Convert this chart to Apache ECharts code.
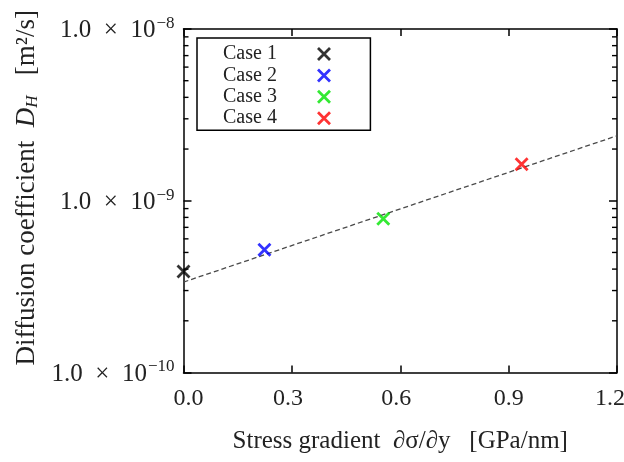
<!DOCTYPE html>
<html>
<head>
<meta charset="utf-8">
<script src="https://cdn.jsdelivr.net/npm/echarts@6/dist/echarts.min.js"></script>
<style>
  html, body { margin: 0; padding: 0; background: #fff; }
  #chart { width: 624px; height: 462px; }
</style>
</head>
<body>
<div id="chart"></div>
<script>
// Measured diffusion coefficients for each loading case
const caseNames = ['Case 1', 'Case 2', 'Case 3', 'Case 4'];
const caseColors = ['#000000', '#0000ff', '#00e400', '#ff0000'];
const stressGradient = [0.0, 0.224, 0.553, 0.936];       // GPa/nm
const diffusionCoeff = [3.87e-10, 5.18e-10, 7.85e-10, 1.63e-9]; // m^2/s

// Exponential fit drawn as a dashed line
const fitX = [0.0, 1.2];
const fitY = [3.36e-10, 2.39e-9];

// Axis ranges and ticks
const xTicks = [0.0, 0.3, 0.6, 0.9, 1.2];
const yMajor = [1e-10, 1e-9, 1e-8];
const yMinor = [2e-10, 3e-10, 4e-10, 5e-10, 6e-10, 7e-10, 8e-10, 9e-10,
                2e-9, 3e-9, 4e-9, 5e-9, 6e-9, 7e-9, 8e-9, 9e-9];

const FONT = '"Liberation Serif", "Times New Roman", serif';
const crossPath = 'path://M0,0L10,10M10,0L0,10';

const chart = echarts.init(document.getElementById('chart'), null, { renderer: 'canvas' });

const markStyle = i => ({ color: 'rgba(0,0,0,0)', borderColor: caseColors[i], borderWidth: 2.8 });

const scatterSeries = caseNames.map((name, i) => ({
  name: name,
  type: 'scatter',
  xAxisIndex: 0,
  yAxisIndex: 0,
  symbol: crossPath,
  symbolSize: 12,
  itemStyle: markStyle(i),
  data: [[stressGradient[i], diffusionCoeff[i]]],
  z: 5
}));

function expLabel(v) {
  const e = Math.round(Math.log10(v));
  return '{m|1.0\u2002×\u200210}{s|−' + Math.abs(e) + '}';
}

const yLabelRich = {
  m: { fontFamily: FONT, fontSize: 25, color: '#222', lineHeight: 28, verticalAlign: 'bottom' },
  s: { fontFamily: FONT, fontSize: 17, color: '#222', lineHeight: 28, verticalAlign: 'top', padding: [0, 0, 0, 1] }
};

// small horizontal nudges of the tick labels
const xLabelStyle = { fontFamily: FONT, fontSize: 24, color: '#222' };
const xLabelRich = {
  a: Object.assign({ padding: [0, 0, 0, 10] }, xLabelStyle),
  b: Object.assign({ padding: [0, 8, 0, 0] }, xLabelStyle),
  c: Object.assign({ padding: [0, 0, 0, 0] }, xLabelStyle),
  d: Object.assign({ padding: [0, 14, 0, 0] }, xLabelStyle)
};
function xLabel(v) {
  const t = v.toFixed(1);
  if (v < 0.15) return '{a|' + t + '}';
  if (v < 0.75) return '{b|' + t + '}';
  if (v < 1.05) return '{c|' + t + '}';
  return '{d|' + t + '}';
}

const axisLineStyle = { color: '#000', width: 1.5 };

const option = {
  animation: false,
  backgroundColor: '#ffffff',
  grid: { left: 183.5, right: 7, top: 29, bottom: 89.5, containLabel: false, outerBoundsMode: 'none' },
  xAxis: [{
    type: 'value', position: 'bottom', min: 0, max: 1.2, interval: 0.3,
    axisLine: { show: true, onZero: false, lineStyle: axisLineStyle },
    axisTick: { show: true, inside: true, length: 7, lineStyle: axisLineStyle },
    axisLabel: { margin: 14, formatter: v => xLabel(v), rich: xLabelRich },
    splitLine: { show: false },
    name: 'Stress gradient  ∂σ/∂y   [GPa/nm]',
    nameLocation: 'middle', nameGap: 56,
    nameTextStyle: { fontFamily: FONT, fontSize: 25, color: '#222' }
  }, {
    type: 'value', position: 'top', min: 0, max: 1.2, interval: 0.3,
    axisLine: { show: true, onZero: false, lineStyle: axisLineStyle },
    axisTick: { show: true, inside: true, length: 7, lineStyle: axisLineStyle },
    axisLabel: { show: false },
    splitLine: { show: false }
  }],
  yAxis: [{
    type: 'log', logBase: 10, position: 'left', min: 1e-10, max: 1e-8,
    axisLine: { show: true, onZero: false, lineStyle: axisLineStyle },
    axisTick: { show: true, inside: true, length: 8, lineStyle: axisLineStyle },
    minorTick: { show: false },
    axisLabel: { margin: 9, formatter: v => expLabel(v), rich: yLabelRich },
    splitLine: { show: false },
    name: '{t|Diffusion coefficient  }{i|D}{sub|H}{t|   [m²/s]}',
    nameLocation: 'middle', nameGap: 140,
    nameTextStyle: {
      padding: [0, 0, 0, 26],
      rich: {
        t: { fontFamily: FONT, fontSize: 27, color: '#222', lineHeight: 32, verticalAlign: 'bottom' },
        i: { fontFamily: FONT, fontSize: 27, fontStyle: 'italic', color: '#222', lineHeight: 32, verticalAlign: 'bottom' },
        sub: { fontFamily: FONT, fontSize: 17, fontStyle: 'italic', color: '#222', lineHeight: 26, verticalAlign: 'bottom' }
      }
    }
  }, {
    type: 'log', logBase: 10, position: 'right', min: 1e-10, max: 1e-8,
    axisLine: { show: true, onZero: false, lineStyle: axisLineStyle },
    axisTick: { show: true, inside: true, length: 8, lineStyle: axisLineStyle },
    axisLabel: { show: false },
    splitLine: { show: false }
  }],
  legend: {
    orient: 'vertical',
    left: 197, top: 38,
    align: 'right',
    padding: [6, 39, 2, 26],
    backgroundColor: '#fff',
    borderColor: '#000', borderWidth: 1.5,
    itemWidth: 12, itemHeight: 12, itemGap: 1.4,
    formatter: '{n|{name}}',
    textStyle: {
      fontFamily: FONT, fontSize: 20, color: '#222', lineHeight: 18,
      rich: { n: { fontFamily: FONT, fontSize: 20, color: '#222', width: 90, align: 'left', lineHeight: 18 } }
    },
    data: caseNames.map((n, i) => ({ name: n, itemStyle: markStyle(i) }))
  },
  series: [
    {
      name: 'fit', type: 'line', xAxisIndex: 0, yAxisIndex: 0,
      data: fitX.map((x, i) => [x, fitY[i]]),
      showSymbol: false, symbol: 'none',
      lineStyle: { color: '#4a4a4a', width: 1.3, type: [5, 3] },
      z: 3, silent: true
    },
    {
      // minor ticks of the log axis, drawn inside on both sides
      name: 'minorTicks', type: 'custom', xAxisIndex: 1, yAxisIndex: 1,
      data: yMinor.map(v => [0, v]),
      renderItem: function (params, api) {
        const l = api.coord([0, api.value(1)]);
        const r = api.coord([1.2, api.value(1)]);
        const st = { stroke: '#000', lineWidth: 1.4 };
        return {
          type: 'group',
          children: [
            { type: 'line', shape: { x1: l[0], y1: l[1], x2: l[0] + 5, y2: l[1] }, style: st },
            { type: 'line', shape: { x1: r[0], y1: r[1], x2: r[0] - 5, y2: r[1] }, style: st }
          ]
        };
      },
      silent: true, z: 4
    }
  ].concat(scatterSeries)
};

chart.setOption(option);
</script>
</body>
</html>
